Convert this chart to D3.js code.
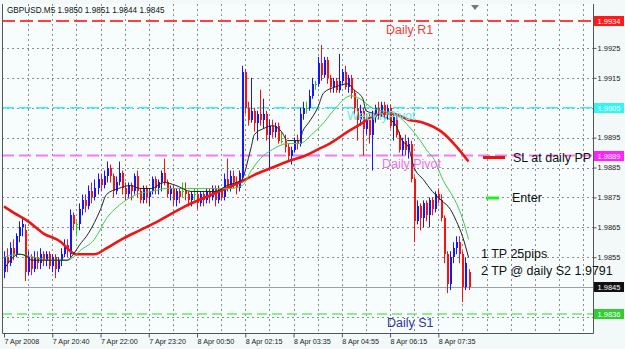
<!DOCTYPE html>
<html><head><meta charset="utf-8">
<script src="https://cdn.jsdelivr.net/npm/d3@7/dist/d3.min.js"></script>
<style>
html,body{margin:0;padding:0;background:#f4fafa;}
svg{display:block;font-family:Arial,"Liberation Sans",sans-serif;}
</style>
</head><body>
<svg id="c" width="625" height="349"></svg>
<script>
// ---------- DATA ----------
const symbol = "GBPUSD.M5";
const lastQuote = ["1.9850", "1.9851", "1.9844", "1.9845"];
// [open, high, low, close] per 5-minute bar
const ohlc = [
[1.9850,1.9857,1.9848,1.9855],[1.9855,1.9858,1.9850,1.9853],[1.9853,1.9860,1.9852,1.9858],[1.9858,1.9861,1.9854,1.9856],
[1.9856,1.9863,1.9855,1.9862],[1.9862,1.9867,1.9860,1.9865],[1.9865,1.9868,1.9862,1.9866],[1.9864,1.9866,1.9847,1.9850],
[1.9850,1.9857,1.9849,1.9855],[1.9855,1.9856,1.9849,1.9851],[1.9851,1.9857,1.9850,1.9855],[1.9855,1.9857,1.9851,1.9853],
[1.9853,1.9858,1.9851,1.9856],[1.9856,1.9857,1.9852,1.9854],[1.9854,1.9857,1.9852,1.9856],[1.9856,1.9857,1.9851,1.9852],
[1.9852,1.9856,1.9850,1.9855],[1.9855,1.9856,1.9848,1.9851],[1.9851,1.9855,1.9850,1.9854],[1.9854,1.9858,1.9852,1.9856],
[1.9856,1.9861,1.9855,1.9859],[1.9859,1.9861,1.9855,1.9857],[1.9856,1.9871,1.9855,1.9869],[1.9869,1.9870,1.9864,1.9866],
[1.9866,1.9867,1.9862,1.9866],[1.9866,1.9873,1.9864,1.9871],[1.9871,1.9876,1.9869,1.9874],[1.9874,1.9876,1.9870,1.9872],
[1.9872,1.9879,1.9871,1.9877],[1.9877,1.9880,1.9873,1.9875],[1.9875,1.9881,1.9874,1.9878],[1.9878,1.9883,1.9876,1.9881],
[1.9881,1.9883,1.9877,1.9879],[1.9879,1.9884,1.9878,1.9882],[1.9882,1.9887,1.9880,1.9885],[1.9885,1.9886,1.9880,1.9882],
[1.9882,1.9883,1.9875,1.9877],[1.9877,1.9882,1.9876,1.9880],[1.9880,1.9887,1.9879,1.9883],[1.9883,1.9884,1.9876,1.9878],
[1.9878,1.9880,1.9874,1.9876],[1.9876,1.9880,1.9875,1.9879],[1.9879,1.9880,1.9874,1.9877],[1.9877,1.9883,1.9876,1.9882],
[1.9882,1.9884,1.9875,1.9877],[1.9877,1.9878,1.9873,1.9874],[1.9874,1.9879,1.9873,1.9878],[1.9878,1.9879,1.9873,1.9875],
[1.9875,1.9878,1.9872,1.9877],[1.9877,1.9882,1.9876,1.9881],[1.9881,1.9882,1.9876,1.9878],[1.9878,1.9881,1.9876,1.9880],
[1.9880,1.9884,1.9877,1.9883],[1.9883,1.9888,1.9879,1.9880],[1.9880,1.9881,1.9875,1.9876],[1.9876,1.9879,1.9874,1.9878],
[1.9878,1.9879,1.9872,1.9874],[1.9874,1.9878,1.9872,1.9877],[1.9877,1.9878,1.9873,1.9875],[1.9877,1.9880,1.9875,1.9877],
[1.9877,1.9880,1.9874,1.9876],[1.9876,1.9877,1.9872,1.9874],[1.9874,1.9877,1.9872,1.9876],[1.9876,1.9878,1.9874,1.9876],
[1.9876,1.9877,1.9871,1.9873],[1.9873,1.9877,1.9872,1.9876],[1.9876,1.9877,1.9872,1.9874],[1.9874,1.9878,1.9873,1.9877],
[1.9877,1.9878,1.9873,1.9875],[1.9875,1.9879,1.9874,1.9878],[1.9878,1.9879,1.9872,1.9874],[1.9874,1.9879,1.9873,1.9877],
[1.9877,1.9878,1.9874,1.9875],[1.9875,1.9883,1.9874,1.9881],[1.9881,1.9888,1.9877,1.9878],[1.9878,1.9884,1.9877,1.9882],
[1.9882,1.9884,1.9878,1.9880],[1.9880,1.9882,1.9876,1.9878],[1.9878,1.9884,1.9877,1.9883],[1.9882,1.9919,1.9880,1.9917],
[1.9917,1.9918,1.9903,1.9905],[1.9905,1.9907,1.9899,1.9901],[1.9901,1.9915,1.9900,1.9904],[1.9904,1.9905,1.9897,1.9900],
[1.9900,1.9904,1.9894,1.9903],[1.9903,1.9911,1.9899,1.9901],[1.9901,1.9908,1.9898,1.9903],[1.9903,1.9904,1.9894,1.9896],
[1.9896,1.9901,1.9884,1.9899],[1.9899,1.9901,1.9895,1.9897],[1.9897,1.9900,1.9895,1.9899],[1.9899,1.9900,1.9893,1.9894],
[1.9894,1.9897,1.9893,1.9894],[1.9894,1.9896,1.9890,1.9892],[1.9892,1.9893,1.9887,1.9889],[1.9889,1.9892,1.9886,1.9891],
[1.9891,1.9895,1.9890,1.9894],[1.9894,1.9896,1.9891,1.9893],[1.9893,1.9905,1.9892,1.9903],[1.9903,1.9907,1.9901,1.9905],
[1.9905,1.9907,1.9903,1.9905],[1.9905,1.9911,1.9904,1.9909],[1.9909,1.9915,1.9908,1.9913],[1.9913,1.9914,1.9911,1.9913],
[1.9913,1.9922,1.9912,1.9920],[1.9920,1.9926,1.9914,1.9916],[1.9916,1.9922,1.9915,1.9921],[1.9921,1.9922,1.9913,1.9915],
[1.9915,1.9916,1.9910,1.9912],[1.9912,1.9915,1.9910,1.9914],[1.9914,1.9915,1.9910,1.9911],[1.9911,1.9923,1.9910,1.9914],
[1.9914,1.9918,1.9913,1.9917],[1.9917,1.9919,1.9911,1.9912],[1.9912,1.9916,1.9910,1.9915],[1.9915,1.9916,1.9908,1.9910],
[1.9910,1.9911,1.9903,1.9905],[1.9905,1.9908,1.9894,1.9901],[1.9901,1.9906,1.9899,1.9904],[1.9904,1.9905,1.9889,1.9898],
[1.9898,1.9903,1.9896,1.9901],[1.9901,1.9903,1.9893,1.9896],[1.9896,1.9904,1.9884,1.9902],[1.9902,1.9906,1.9900,1.9905],
[1.9905,1.9907,1.9901,1.9903],[1.9903,1.9907,1.9902,1.9906],[1.9906,1.9907,1.9901,1.9903],[1.9903,1.9906,1.9901,1.9905],
[1.9905,1.9906,1.9898,1.9899],[1.9899,1.9903,1.9894,1.9902],[1.9902,1.9903,1.9895,1.9896],[1.9896,1.9897,1.9890,1.9891],
[1.9891,1.9895,1.9889,1.9894],[1.9894,1.9896,1.9889,1.9891],[1.9891,1.9895,1.9888,1.9893],[1.9893,1.9894,1.9880,1.9881],
[1.9881,1.9882,1.9860,1.9867],[1.9867,1.9874,1.9866,1.9872],[1.9872,1.9873,1.9864,1.9868],[1.9868,1.9874,1.9865,1.9873],
[1.9873,1.9874,1.9867,1.9869],[1.9869,1.9875,1.9865,1.9874],[1.9874,1.9875,1.9869,1.9871],[1.9871,1.9877,1.9870,1.9876],
[1.9876,1.9878,1.9873,1.9874],[1.9874,1.9876,1.9867,1.9868],[1.9868,1.9869,1.9853,1.9856],[1.9856,1.9857,1.9843,1.9846],
[1.9846,1.9857,1.9844,1.9855],[1.9855,1.9860,1.9853,1.9858],[1.9858,1.9862,1.9856,1.9860],[1.9860,1.9862,1.9853,1.9856],
[1.9856,1.9857,1.9840,1.9845],[1.9845,1.9855,1.9844,1.9853],[1.9850,1.9851,1.9844,1.9845]
];
// moving averages: [bar index, price]
const maFast = [[0,1.9851],[5,1.9856],[8,1.9855],[9,1.9854],[15,1.9854],[21,1.9854],[23,1.9856],[25,1.9859],[28,1.9863],
 [32,1.9871],[34,1.9876],[38,1.9878],[42,1.9879],[45,1.9878],[49,1.9878],[53,1.9880],[57,1.9879],[62,1.9877],[67,1.9877],
 [70,1.9877],[74,1.9879],[77,1.9880],[79,1.9881],[80,1.9884],[81,1.9888],[82,1.9892],[83,1.9896],[86,1.9898],[89,1.9899],
 [92,1.9897],[94,1.9894],[98,1.9894],[99,1.9897],[101,1.9900],[104,1.9905],[106,1.9910],[110,1.9912],[114,1.9913],[116,1.9911],
 [119,1.9908],[120,1.9904],[123,1.9903],[126,1.9902],[130,1.9899],[132,1.9894],[134,1.9892],[136,1.9885],[139,1.9881],
 [142,1.9877],[145,1.9874],[148,1.9871],[150,1.9867],[152,1.9862],[154,1.9855]];
const maMid = [[0,1.9855],[5,1.9856],[10,1.9855],[15,1.9854],[21,1.9854],[23,1.9855],[25,1.9857],[30,1.9861],[34,1.9868],
 [39,1.9873],[44,1.9876],[49,1.9877],[54,1.9878],[59,1.9878],[65,1.9878],[70,1.9878],[75,1.9878],[79,1.9879],[82,1.9884],
 [85,1.9888],[89,1.9891],[94,1.9893],[98,1.9893],[102,1.9896],[106,1.9900],[110,1.9905],[115,1.9909],[118,1.9908],
 [122,1.9905],[125,1.9904],[129,1.9903],[131,1.9902],[134,1.9899],[138,1.9894],[140,1.9891],[143,1.9887],[145,1.9882],
 [150,1.9873],[152,1.9868],[154,1.9861]];
const maSlow = [[0,1.9872],[3,1.9870],[8,1.9867],[13,1.9863],[19,1.9860],[22,1.9857],[24,1.9856],[30,1.9856],[34,1.9858],
 [39,1.9861],[45,1.9864],[51,1.9867],[60,1.9872],[69,1.9876],[78,1.9880],[84,1.9883],[89,1.9885],[94,1.9887],[100,1.9889],
 [104,1.9891],[108,1.9893],[114,1.9897],[119,1.9900],[122,1.9902],[125,1.9903],[129,1.9903],[134,1.9901],[139,1.9900],
 [145,1.9897],[150,1.9892],[154,1.9887]];
const priceTicks = [1.9925,1.9915,1.9905,1.9895,1.9885,1.9875,1.9865,1.9855,1.9845,1.9835];
const timeLabels = ["7 Apr 2008","7 Apr 20:40","7 Apr 22:00","7 Apr 23:20","8 Apr 00:50","8 Apr 02:15","8 Apr 03:35","8 Apr 04:55","8 Apr 06:15","8 Apr 07:35"];
const barsPerLabel = 16;
const levelNames = ["Daily R1","WeeklyPivot","Daily Pivot","Daily S1"];
const levelPrices = [1.9934,1.9905,1.9889,1.9836];
const bidPrice = 1.9845;
const notes = ["SL at daily PP","Enter","1 TP 25pips","2 TP @ daily S2 1.9791"];

// ---------- LAYOUT / STYLE ----------
const P = {l:2, t:4, r:593, b:333};
const svg = d3.select("#c");
const x = d3.scaleLinear().domain([0,154]).range([4,468.5]);
const y = d3.scaleLinear().domain([1.982965,1.993969]).range([P.b,P.t]);
const fmt = d3.format(".4f");
const smallFont = "Arial,'Liberation Sans',sans-serif";

svg.append("rect").attr("width",625).attr("height",349).attr("fill","#f3f9f9");
svg.append("rect").attr("x",P.l).attr("y",P.t).attr("width",P.r-P.l).attr("height",P.b-P.t).attr("fill","#f7fdfd");

const clip = svg.append("clipPath").attr("id","pc").append("rect")
  .attr("x",P.l).attr("y",P.t).attr("width",P.r-P.l).attr("height",P.b-P.t);
const g = svg.append("g").attr("clip-path","url(#pc)");

// grid
const vIdx = d3.range(8, 200, 8);
g.selectAll(".vg").data(vIdx).join("line")
  .attr("x1",d=>Math.round(x(d))+0.5).attr("x2",d=>Math.round(x(d))+0.5)
  .attr("y1",P.t).attr("y2",P.b).attr("stroke","#8d8d8d").attr("stroke-dasharray","2,3").attr("stroke-width",1);
g.selectAll(".hg").data(priceTicks).join("line")
  .attr("x1",P.l).attr("x2",P.r).attr("y1",d=>Math.round(y(d))+0.5).attr("y2",d=>Math.round(y(d))+0.5)
  .attr("stroke","#8d8d8d").attr("stroke-dasharray","2,3").attr("stroke-width",1);

// bid line
g.append("line").attr("x1",P.l).attr("x2",P.r).attr("y1",Math.round(y(bidPrice))+0.5).attr("y2",Math.round(y(bidPrice))+0.5)
  .attr("stroke","#a0a0a0").attr("stroke-width",1);

// level lines
const levelColor = ["#ff4040","#3cf0f0","#f07ef0","#6ee86e"];
const levelDash = ["13,5","12,5","12,5","10,5"];
const levelWidth = [2,1.5,2,1.5];
g.selectAll(".lv").data(levelPrices).join("line")
  .attr("x1",P.l).attr("x2",P.r).attr("y1",d=>y(d)).attr("y2",d=>y(d))
  .attr("stroke",(d,i)=>levelColor[i]).attr("stroke-dasharray",(d,i)=>levelDash[i])
  .attr("stroke-width",(d,i)=>levelWidth[i]);

// candles
const cg = g.append("g");
const col = d => d[3]>d[0] ? "#1515ff" : (d[3]<d[0] ? "#ff1010" : "#22cc22");
cg.selectAll(".wick").data(ohlc).join("line")
  .attr("x1",(d,i)=>Math.round(x(i))+0.5).attr("x2",(d,i)=>Math.round(x(i))+0.5)
  .attr("y1",d=>y(d[1])).attr("y2",d=>y(d[2])).attr("stroke",col).attr("stroke-width",1);
cg.selectAll(".body").data(ohlc).join("rect")
  .attr("x",(d,i)=>Math.round(x(i))-0.5).attr("width",2)
  .attr("y",d=>y(Math.max(d[0],d[3]))).attr("height",d=>Math.max(1,Math.abs(y(d[0])-y(d[3]))))
  .attr("fill",col).attr("shape-rendering","crispEdges");

// moving averages
const line = d3.line().x(d=>x(d[0])).y(d=>y(d[1])).curve(d3.curveMonotoneX);
g.append("path").attr("d",line(maSlow)).attr("fill","none").attr("stroke","#ee1515").attr("stroke-width",2.6);
g.append("path").attr("d",line(maMid)).attr("fill","none").attr("stroke","#44cc44").attr("stroke-width",1);
g.append("path").attr("d",line(maFast)).attr("fill","none").attr("stroke","#222").attr("stroke-width",1);

// level text labels
const levelTextColor = ["#ff3838","#5ee8e8","#f070f0","#333399"];
const levelTextX = [386,347,382,387];
g.selectAll(".lt").data(levelNames).join("text")
  .attr("x",(d,i)=>levelTextX[i]).attr("y",(d,i)=>y(levelPrices[i])+12.5)
  .attr("font-size",12.5).attr("fill",(d,i)=>levelTextColor[i]).text(d=>d);

// chart shift marker
svg.append("path").attr("d","M471,5 L479,5 L475,10 Z").attr("fill","#777");

// frame
svg.append("path").attr("d",`M${P.l+0.5},${P.t} V${P.b+0.5} H${P.r+0.5} V${P.t}`).attr("fill","none").attr("stroke","#555").attr("stroke-width",1);

// header
svg.append("text").attr("x",7).attr("y",13).attr("font-size",8.2).attr("fill","#111")
  .attr("font-family",smallFont)
  .text(symbol+"  "+lastQuote.join(" "));

// price axis (labels hidden under a price tag are not drawn, as in the reference)
const tagPrices = levelPrices.concat([bidPrice]);
const ya = svg.append("g").attr("transform",`translate(${P.r+0.5},0)`)
  .call(d3.axisRight(y).tickValues(priceTicks).tickSize(3).tickPadding(1).tickFormat(fmt));
ya.select(".domain").remove();
ya.selectAll("line").attr("stroke","#555");
ya.selectAll("text").attr("font-size",7.5).attr("fill","#222").attr("font-family",smallFont)
  .attr("dy","0.3em")
  .attr("display",d=>tagPrices.some(p=>Math.abs(p-d)<0.00025)?"none":null);

// price tags
const tagFill = ["#ff1a1a","#33f5f5","#ff22ff","#33cc33","#111"];
const tags = svg.append("g").selectAll("g").data(tagPrices).join("g")
  .attr("transform",d=>`translate(${P.r+1},${Math.round(y(d))})`);
tags.append("rect").attr("x",0).attr("y",-5).attr("width",30).attr("height",10).attr("fill",(d,i)=>tagFill[i]);
tags.append("text").attr("x",3.5).attr("y",3).attr("font-size",7.5).attr("fill","#fff")
  .attr("font-family",smallFont).text(d=>fmt(d));

// time axis
const tIdx = timeLabels.map((t,i)=>i*barsPerLabel);
const xa = svg.append("g").attr("transform",`translate(0,${P.b+0.5})`)
  .call(d3.axisBottom(x).tickValues(tIdx).tickSize(4).tickPadding(1).tickFormat((d,i)=>timeLabels[i]));
xa.select(".domain").remove();
xa.selectAll("line").attr("stroke","#555");
xa.selectAll("text").attr("text-anchor","start").attr("dx",0).attr("font-size",7.2).attr("fill","#222")
  .attr("font-family",smallFont);

// annotations
const ann = svg.append("g");
ann.append("line").attr("x1",483).attr("x2",505).attr("y1",157.5).attr("y2",157.5).attr("stroke","#ee1111").attr("stroke-width",3);
ann.append("line").attr("x1",486).attr("x2",499).attr("y1",198).attr("y2",198).attr("stroke","#22ee22").attr("stroke-width",3);
const noteX = [513,512,481,481];
const noteY = [162,202,258,275];
ann.selectAll("text").data(notes).join("text")
  .attr("x",(d,i)=>noteX[i]).attr("y",(d,i)=>noteY[i]).attr("font-size",12.5).attr("fill","#111").text(d=>d);
</script>
</body></html>
